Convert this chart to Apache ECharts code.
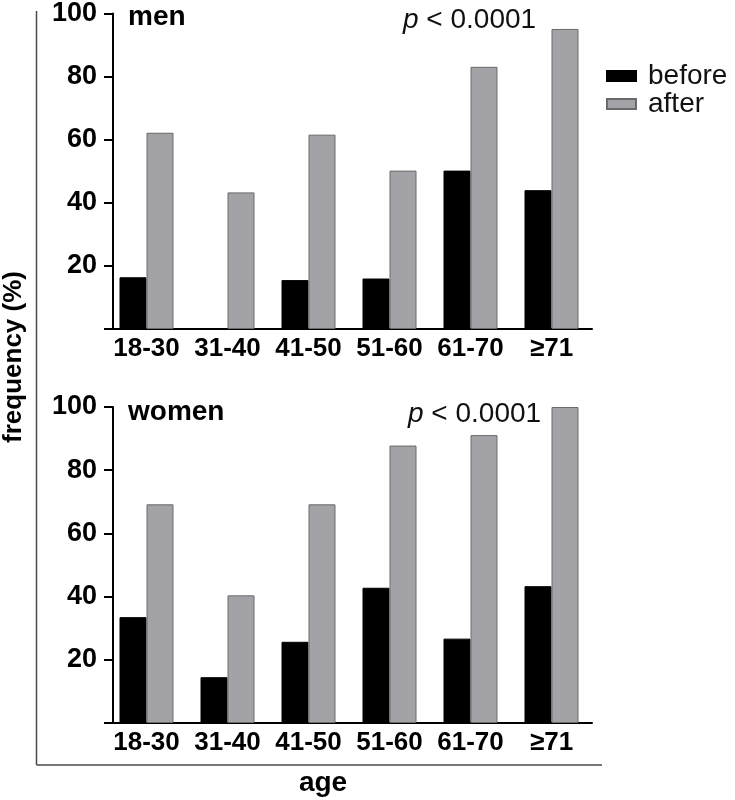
<!DOCTYPE html>
<html>
<head>
<meta charset="utf-8">
<script src="https://cdn.jsdelivr.net/npm/echarts@6/dist/echarts.min.js"></script>
<style>
html,body{margin:0;padding:0;background:#fff;}
#chart{width:735px;height:800px;}
</style>
</head>
<body>
<div id="chart"></div>
<script>
var categories = ['18-30', '31-40', '41-50', '51-60', '61-70', '≥71'];
var menBefore = [16.4, 0, 15.5, 16.0, 50.2, 44.0];
var menAfter = [62.2, 43.3, 61.6, 50.2, 83.1, 95.1];
var womenBefore = [33.5, 14.5, 25.7, 42.8, 26.7, 43.3];
var womenAfter = [69.2, 40.4, 69.2, 87.8, 91.1, 100];
var yTicks = [0, 20, 40, 60, 80, 100];

var FONT = '"Liberation Sans", Arial, Helvetica, sans-serif';
var chart = echarts.init(document.getElementById('chart'), null, {renderer: 'canvas'});

function xAxisCfg(idx) {
  return {
    type: 'category', gridIndex: idx, data: categories,
    axisLine: {lineStyle: {color: '#000', width: 2}},
    axisTick: {show: false},
    axisLabel: {color: '#000', fontFamily: FONT, fontWeight: 'bold', fontSize: 26, margin: 7, interval: 0}
  };
}
function yAxisCfg(idx) {
  return {
    type: 'value', gridIndex: idx, min: yTicks[0], max: yTicks[yTicks.length - 1], interval: 20,
    offset: -7,
    axisLine: {show: true, lineStyle: {color: '#000', width: 2}},
    axisTick: {show: true, length: 9, lineStyle: {color: '#000', width: 2}},
    splitLine: {show: false},
    axisLabel: {
      color: '#000', fontFamily: FONT, fontWeight: 'bold', fontSize: 27, margin: 16,
      formatter: function (v) { return v === 0 ? '' : String(v); }
    }
  };
}
var blackStyle = {color: '#000', borderColor: '#000', borderWidth: 1};
var greyStyle = {color: '#a3a2a7', borderColor: '#6a6a6a', borderWidth: 1};
function bar(name, data, idx, style) {
  return {
    type: 'bar', name: name, data: data, xAxisIndex: idx, yAxisIndex: idx,
    barWidth: 27, barGap: '0%', itemStyle: style, silent: true
  };
}

var option = {
  animation: false,
  backgroundColor: '#fff',
  textStyle: {fontFamily: FONT},
  grid: [
    {left: 106, right: 143, top: 13, height: 316},
    {left: 106, right: 143, top: 407, height: 316}
  ],
  xAxis: [xAxisCfg(0), xAxisCfg(1)],
  yAxis: [yAxisCfg(0), yAxisCfg(1)],
  legend: {
    data: ['before', 'after'],
    orient: 'vertical', left: 601, top: 57,
    itemWidth: 29, itemHeight: 10, itemGap: 0,
    icon: 'rect',
    selectedMode: false,
    textStyle: {color: '#111', fontFamily: FONT, fontSize: 28, padding: [0, 0, 0, 7]}
  },
  series: [
    bar('before', menBefore, 0, blackStyle),
    bar('after', menAfter, 0, greyStyle),
    bar('before', womenBefore, 1, blackStyle),
    bar('after', womenAfter, 1, greyStyle)
  ],
  graphic: [
    {type: 'line', shape: {x1: 36.5, y1: 11, x2: 36.5, y2: 765}, style: {stroke: '#4a4a4a', lineWidth: 1.5}, silent: true},
    {type: 'line', shape: {x1: 36.5, y1: 765, x2: 602, y2: 765}, style: {stroke: '#4a4a4a', lineWidth: 1.5}, silent: true},
    {type: 'text', left: 128, top: 3, style: {text: 'men', font: 'bold 28px ' + FONT, fill: '#000'}},
    {type: 'text', left: 128, top: 398, style: {text: 'women', font: 'bold 28px ' + FONT, fill: '#000'}},
    {type: 'text', left: 403, top: 6, style: {
      text: '{i|p} < 0.0001', font: '28px ' + FONT, fill: '#111',
      rich: {i: {fontStyle: 'italic', fontSize: 28, fontFamily: FONT, fill: '#111'}}
    }},
    {type: 'text', left: 408, top: 400, style: {
      text: '{i|p} < 0.0001', font: '28px ' + FONT, fill: '#111',
      rich: {i: {fontStyle: 'italic', fontSize: 28, fontFamily: FONT, fill: '#111'}}
    }},
    {type: 'text', x: 14, y: 357, rotation: Math.PI / 2, style: {
      text: 'frequency (%)', font: 'bold 26px ' + FONT, fill: '#000', align: 'center', verticalAlign: 'middle'
    }},
    {type: 'text', x: 323, y: 783, style: {
      text: 'age', font: 'bold 28px ' + FONT, fill: '#000', align: 'center', verticalAlign: 'middle'
    }}
  ]
};
chart.setOption(option);
</script>
</body>
</html>
